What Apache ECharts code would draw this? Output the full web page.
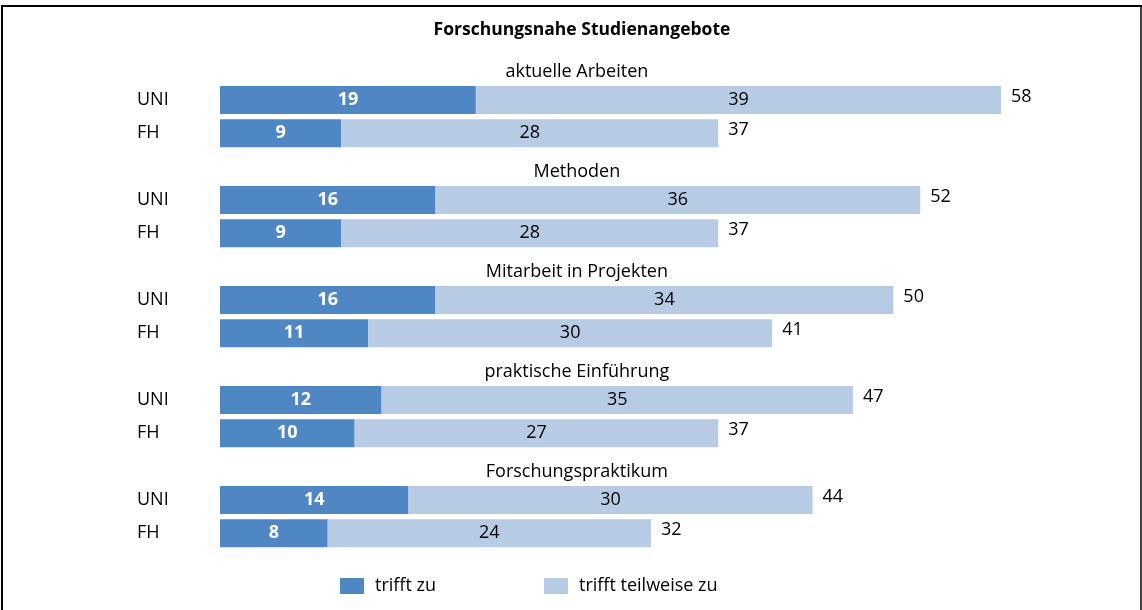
<!DOCTYPE html>
<html>
<head>
<meta charset="utf-8">
<script src="https://cdn.jsdelivr.net/npm/echarts@6/dist/echarts.min.js"></script>
<style>
html,body{margin:0;padding:0;background:#fff;}
#c{width:1142px;height:610px;}
</style>
</head>
<body>
<div id="c"></div>
<script>
var groups = ['aktuelle Arbeiten', 'Methoden', 'Mitarbeit in Projekten', 'praktische Einführung', 'Forschungspraktikum'];
var types = ['UNI', 'FH'];
var triffZu = [[19, 9], [16, 9], [16, 11], [12, 10], [14, 8]];
var teilweise = [[39, 28], [36, 28], [34, 30], [35, 27], [30, 24]];
var seriesNames = ['trifft zu', 'trifft teilweise zu'];
var chartTitle = 'Forschungsnahe Studienangebote';

var FONT = '"Open Sans", "Noto Sans", sans-serif';
var FS = 18;
var C1 = '#4F87C5', C2 = '#B7CBE4';

// rows: for each group -> label row, UNI row, FH row
var cats = [], s1 = [], s2 = [], totals = [], grp = [];
var XMAX = 60, CENTER = 26.5;
groups.forEach(function (g, i) {
  cats.push('g' + i); s1.push('-'); s2.push('-'); totals.push('-'); grp.push([CENTER, 'g' + i, g]);
  types.forEach(function (t, j) {
    var k = t + i;
    cats.push(k);
    s1.push(triffZu[i][j]);
    s2.push(teilweise[i][j]);
    totals.push(triffZu[i][j] + teilweise[i][j]);
  });
});

var chart = echarts.init(document.getElementById('c'), null, {renderer: 'canvas'});
chart.setOption({
  animation: false,
  textStyle: {fontFamily: FONT},
  title: {
    text: chartTitle, left: 577, top: 16, textAlign: 'center',
    textStyle: {fontFamily: FONT, fontSize: 17.5, fontWeight: 'bold', color: '#000'}
  },
  graphic: [
    {type: 'line', shape: {x1: 2, y1: 6, x2: 1142, y2: 6}, style: {stroke: '#000', lineWidth: 2}},
    {type: 'line', shape: {x1: 2, y1: 5, x2: 2, y2: 610}, style: {stroke: '#000', lineWidth: 2}},
    {type: 'line', shape: {x1: 1141, y1: 5, x2: 1141, y2: 610}, style: {stroke: '#000', lineWidth: 1.5}}
  ],
  legend: {
    left: 335, top: 572, itemWidth: 24, itemHeight: 16, itemGap: 108,
    icon: 'rect',
    data: seriesNames,
    textStyle: {fontFamily: FONT, fontSize: FS, color: '#000', padding: [0, 0, 0, 6]}
  },
  grid: {left: 220, right: 1142 - 220 - 808, top: 50, height: 500, containLabel: false},
  xAxis: {
    type: 'value', min: 0, max: XMAX, show: false
  },
  yAxis: {
    type: 'category', data: cats, inverse: true,
    axisLine: {show: false}, axisTick: {show: false}, splitLine: {show: false},
    axisLabel: {
      align: 'left', margin: 83, fontSize: FS, color: '#000', fontFamily: FONT,
      formatter: function (v) { return v.charAt(0) === 'g' ? '' : v.replace(/\d+$/, ''); }
    }
  },
  series: [
    {
      name: seriesNames[0], type: 'bar', stack: 'a', data: s1, barWidth: 28,
      itemStyle: {color: C1},
      label: {show: true, position: 'inside', color: '#fff', fontWeight: 'bold', fontSize: FS, fontFamily: FONT}
    },
    {
      name: seriesNames[1], type: 'bar', stack: 'a', data: s2, barWidth: 28,
      itemStyle: {color: C2},
      label: {show: true, position: 'inside', color: '#000', fontSize: FS, fontFamily: FONT}
    },
    {
      name: 'total', type: 'scatter', symbolSize: 0, itemStyle: {opacity: 1},
      data: totals.map(function (v, i) { return v === '-' ? null : [v, cats[i]]; }).filter(Boolean),
      label: {show: true, position: 'right', distance: 10, color: '#000', fontSize: FS, fontFamily: FONT, offset: [0, -3],
        formatter: function (p) { return p.value[0]; }},
      silent: true
    },
    {
      name: 'groups', type: 'scatter', symbolSize: 0, itemStyle: {opacity: 1}, data: grp,
      label: {show: true, position: 'inside', offset: [0, 5], color: '#000', fontSize: FS, fontFamily: FONT,
        formatter: function (p) { return p.value[2]; }},
      silent: true
    }
  ]
});
</script>
</body>
</html>
